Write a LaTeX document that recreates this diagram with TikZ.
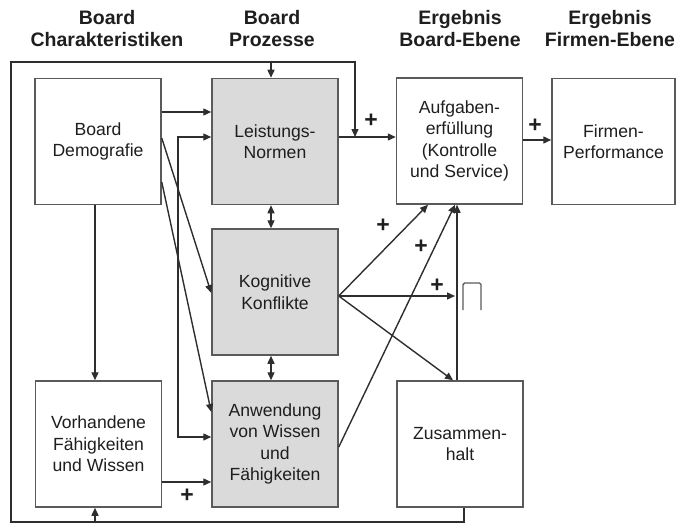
\documentclass[tikz,border=0pt]{standalone}
\usepackage{fontspec}
\setmainfont{Liberation Sans}
\usetikzlibrary{arrows.meta}
\definecolor{boxgray}{HTML}{5A5A5A}
\definecolor{linegray}{HTML}{2E2E2E}
\definecolor{procfill}{HTML}{DADADA}
\definecolor{txt}{HTML}{1E1E1E}
\begin{document}
\begin{tikzpicture}[x=1pt,y=-1pt,
  box/.style={draw=boxgray, line width=1.5pt, inner sep=0pt, minimum width=126pt,
    minimum height=126pt, align=center, font=\fontsize{17.6}{21.5}\selectfont, text=txt},
  proc/.style={box, fill=procfill},
  link/.style={draw=linegray, line width=1.4pt},
  arr/.style={link, -{Triangle[length=8pt,width=7pt]}},
  biarr/.style={link, {Triangle[length=8pt,width=7pt]}-{Triangle[length=8pt,width=7pt]}},
  head/.style={font=\bfseries\fontsize{19.5}{22}\selectfont, align=center, text=txt},
  plus/.style={font=\bfseries\fontsize{23}{23}\selectfont, text=txt, inner sep=0pt}
]
\useasboundingbox (0,0) rectangle (676,524);

% column headings
\node[head] (h1) at (107,29) {Board\\Charakteristiken};
\node[head] (h2) at (272,29) {Board\\Prozesse};
\node[head] (h3) at (460,29) {Ergebnis\\Board-Ebene};
\node[head] (h4) at (610,29) {Ergebnis\\Firmen-Ebene};

% boxes
\node[box]  (dem) at (98,141.5) {Board\\Demografie};
\node[box]  (vor) at (98.5,444) {Vorhandene\\Fähigkeiten\\und Wissen};
\node[proc] (lei) at (275,141.5) {Leistungs-\\Normen};
\node[proc] (kog) at (275,292) {Kognitive\\Konflikte};
\node[proc] (anw) at (275,444) {Anwendung\\von Wissen\\und\\Fähigkeiten};
\node[box]  (auf) at (459.5,141) {Aufgaben-\\erfüllung\\(Kontrolle\\und Service)};
\node[box]  (zus) at (460,444) {Zusammen-\\halt};
\node[box, minimum width=123pt] (fir) at (613.5,141.5) {Firmen-\\Performance};

% board demography links
\draw[arr] (dem.east |- 0,112) -- (lei.west |- 0,112);
\draw[arr] (dem.east |- 0,138) -- (kog.west |- 0,293);
\draw[arr] (dem.east |- 0,182) -- (anw.west |- 0,412);
\draw[arr] (dem.south -| 95,0) -- (vor.north -| 95,0);
\draw[arr] (vor.east |- 0,482) -- (anw.west |- 0,482);

% links between the processes
\draw[biarr] (lei.west |- 0,137) -| (178,437) -- (anw.west |- 0,437);
\draw[biarr] (lei.south -| 271,0) -- (kog.north -| 271,0);
\draw[biarr] (kog.south -| 271,0) -- (anw.north -| 271,0);

% outcomes
\coordinate (fbin) at (355,137);
\draw[arr] (lei.east |- 0,137) -- (auf.west |- 0,137);
\draw[arr] (auf.east |- 0,140) -- (fir.west |- 0,140);
\draw[arr] (kog.east |- 0,296) -- (auf.south -| 428,0);
\draw[arr] (kog.east |- 0,296) -- (455,296);
\draw[arr] (kog.east |- 0,296) -- (zus.north -| 453,0);
\draw[arr] (anw.east |- 0,447) -- (auf.south -| 455,0);
\draw[arr] (zus.north -| 457,0) -- (auf.south -| 457,0);

% feedback frame
\draw[arr] (zus.south -| 464,0) -- (464,522) -- (11,522) -- (11,62) -- (355,62) -- (fbin);
\draw[arr] (271,62) -- (lei.north -| 271,0);
\draw[arr] (95,522) -- (vor.south -| 95,0);

% moderator symbol
\draw[draw=boxgray, line width=1.4pt, rounded corners=1.5pt] (463,310) -- (463,283) -- (481,283) -- (481,310);

% signs
\node[plus] (p1) at (371,121) {+};
\node[plus] (p2) at (535,126) {+};
\node[plus] (p3) at (383,226) {+};
\node[plus] (p4) at (421,247) {+};
\node[plus] (p5) at (437,286) {+};
\node[plus] (p6) at (187,496) {+};
\end{tikzpicture}
\end{document}
